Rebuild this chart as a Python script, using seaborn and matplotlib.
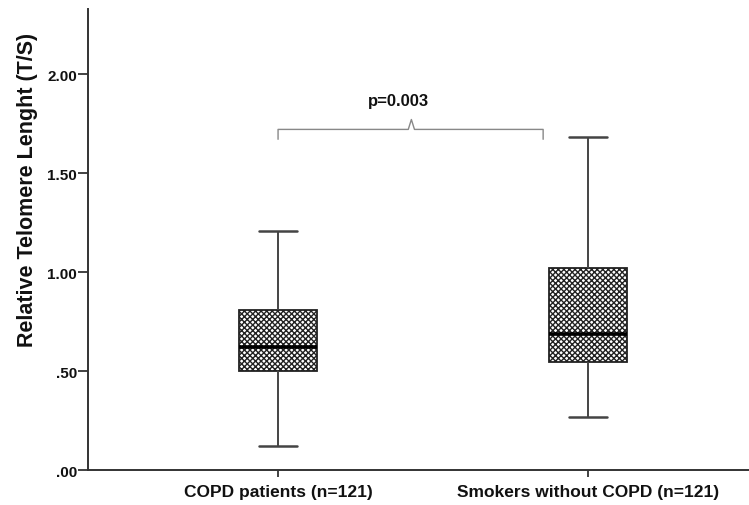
import numpy as np
import pandas as pd
import matplotlib
matplotlib.use("Agg")
import matplotlib.pyplot as plt
import seaborn as sns

# Five-number summaries (min, Q1, median, Q3, max) of relative telomere length
groups = ["COPD patients (n=121)", "Smokers without COPD (n=121)"]
copd_summary = [0.12, 0.50, 0.62, 0.81, 1.21]
smokers_summary = [0.27, 0.545, 0.69, 1.02, 1.685]
y_ticks = [0.0, 0.5, 1.0, 1.5, 2.0]
y_tick_labels = [".00", ".50", "1.00", "1.50", "2.00"]
p_label = "p=0.003"

df = pd.DataFrame({
    "group": [groups[0]] * len(copd_summary) + [groups[1]] * len(smokers_summary),
    "value": copd_summary + smokers_summary,
})

sns.set_style("white")
plt.rcParams["font.family"] = ["Liberation Sans", "DejaVu Sans"]
plt.rcParams["text.color"] = "#111111"
plt.rcParams["axes.labelcolor"] = "#111111"
plt.rcParams["xtick.color"] = "#111111"
plt.rcParams["ytick.color"] = "#111111"
plt.rcParams["hatch.linewidth"] = 1.0
plt.rcParams["hatch.color"] = "black"

fig = plt.figure(figsize=(7.49, 5.06), dpi=100)
ax = fig.add_axes([0.1175, 0.069, 0.8825, 0.911])

sns.boxplot(
    data=df, x="group", y="value", ax=ax, whis=np.inf, width=0.25,
    color="white", linecolor="#333333", linewidth=1.3,
    medianprops=dict(color="black", linewidth=2.6),
    whiskerprops=dict(color="#444444", linewidth=1.4),
    capprops=dict(color="#444444", linewidth=1.8),
    capwidths=0.12,
)
for patch in ax.patches:
    patch.set_hatch("xxxxxx")
    patch.set_edgecolor("#222222")
    patch.set_facecolor("white")

ax.set_ylim(0, 2.33)
ax.set_xlim(-0.613, 1.519)
ax.set_yticks(y_ticks)
ax.set_yticklabels(y_tick_labels, fontsize=11, fontweight="bold")
for lbl in ax.get_xticklabels():
    lbl.set_fontsize(12.5)
    lbl.set_fontweight("bold")
ax.set_xlabel("")
ax.set_ylabel("Relative Telomere Lenght (T/S)", fontsize=15.5, fontweight="bold")
ax.yaxis.set_label_coords(-0.076, 0.61)

for side in ["top", "right"]:
    ax.spines[side].set_visible(False)
for side in ["left", "bottom"]:
    ax.spines[side].set_color("#333333")
    ax.spines[side].set_linewidth(1.4)
ax.tick_params(axis="y", left=True, direction="out", length=7, width=1.3,
               color="#333333", pad=1)
ax.tick_params(axis="x", bottom=True, direction="out", length=5, width=1.3,
               color="#333333", pad=5)

# Significance bracket
x0, x1, xm = 0.0, 0.855, 0.43
yb, yd, yp = 1.722, 1.672, 1.772
bracket_color = "#888888"
ax.plot([x0, x0, xm - 0.01, xm, xm + 0.01, x1, x1],
        [yd, yb, yb, yp, yb, yb, yd], color=bracket_color, lw=1.0,
        solid_joinstyle="round")
ax.text(xm - 0.04, 1.87, p_label, ha="center", va="center",
        fontsize=12, fontweight="bold")

fig.savefig("out.png", dpi=100)
